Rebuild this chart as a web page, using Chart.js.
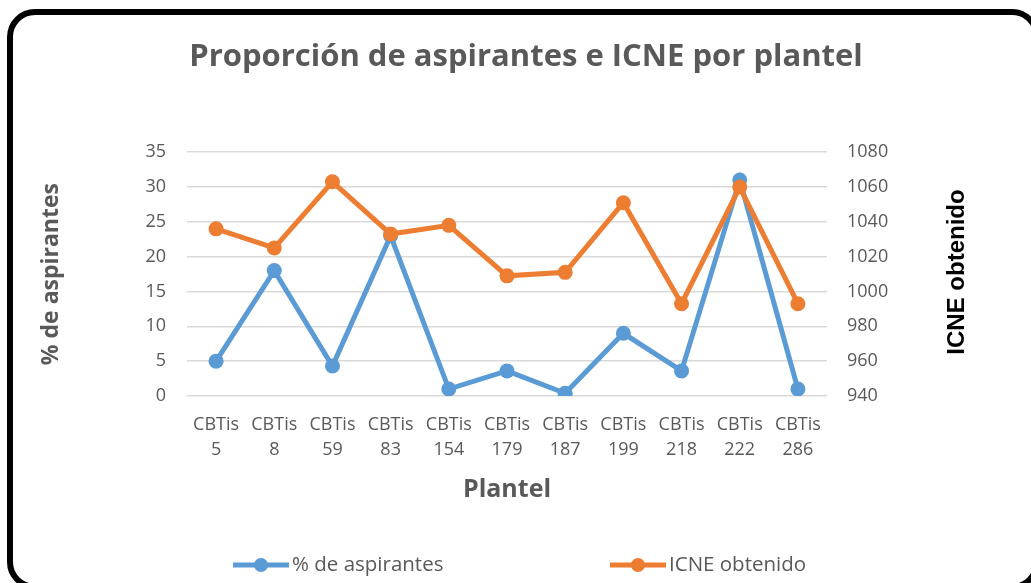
<!DOCTYPE html>
<html>
<head>
<meta charset="utf-8">
<script src="https://cdn.jsdelivr.net/npm/chart.js@4/dist/chart.umd.min.js"></script>
<style>
  html, body { margin: 0; padding: 0; background: #fff; overflow: hidden; }
  #wrap { position: relative; width: 1031px; height: 583px; }
  #frame { position: absolute; left: 7px; top: 9px; width: 1021px; height: 569px; border: 6px solid #000; border-radius: 28px; pointer-events: none; }
  canvas { position: absolute; left: 0; top: 0; }
</style>
</head>
<body>
<div id="wrap">
  <canvas id="c" width="1031" height="583"></canvas>
  <div id="frame"></div>
</div>
<script>
const titleText = 'Proporción de aspirantes e ICNE por plantel';
const xTitle = 'Plantel';
const leftTitle = '% de aspirantes';
const rightTitle = 'ICNE obtenido';
const categories = [['CBTis','5'],['CBTis','8'],['CBTis','59'],['CBTis','83'],['CBTis','154'],['CBTis','179'],['CBTis','187'],['CBTis','199'],['CBTis','218'],['CBTis','222'],['CBTis','286']];
const aspirantes = [5, 18, 4.3, 23, 1, 3.6, 0.4, 9, 3.6, 31, 1];
const icne = [1036, 1025, 1063, 1033, 1038, 1009, 1011, 1051, 993, 1060, 993];
const seriesNames = ['% de aspirantes', 'ICNE obtenido'];
const colors = ['#5B9BD5', '#ED7D31'];

const textColor = '#595959';
const baseFont = "'Open Sans', sans-serif";

const customLegend = {
  id: 'customLegend',
  afterDraw(chart) {
    const ctx = chart.ctx;
    const y = 565;
    const items = [{x: 233, i: 0}, {x: 610, i: 1}];
    ctx.save();
    items.forEach(it => {
      const c = chart.data.datasets[it.i].borderColor;
      ctx.strokeStyle = c;
      ctx.lineWidth = 5;
      ctx.lineCap = 'butt';
      ctx.beginPath();
      ctx.moveTo(it.x, y);
      ctx.lineTo(it.x + 56, y);
      ctx.stroke();
      ctx.fillStyle = c;
      ctx.beginPath();
      ctx.arc(it.x + 28, y, 7, 0, Math.PI * 2);
      ctx.fill();
      ctx.fillStyle = textColor;
      ctx.font = "20.5px " + baseFont;
      ctx.textBaseline = 'middle';
      ctx.textAlign = 'left';
      ctx.fillText(chart.data.datasets[it.i].label, it.x + 59, y);
    });
    // right axis title (rotated, reading bottom to top)
    ctx.translate(957, 272);
    ctx.rotate(-Math.PI / 2);
    ctx.fillStyle = '#000';
    ctx.font = "bold 24px 'Liberation Sans', Arial, sans-serif";
    ctx.textAlign = 'center';
    ctx.textBaseline = 'middle';
    ctx.fillText(rightTitle, 0, 0);
    ctx.restore();
  }
};

new Chart(document.getElementById('c'), {
  type: 'line',
  data: {
    labels: categories,
    datasets: [
      { label: seriesNames[0], data: aspirantes, yAxisID: 'y', borderColor: colors[0], backgroundColor: colors[0],
        borderWidth: 5, pointRadius: 7.5, pointHoverRadius: 7.5, pointBorderWidth: 0, tension: 0, order: 1 },
      { label: seriesNames[1], data: icne, yAxisID: 'y1', borderColor: colors[1], backgroundColor: colors[1],
        borderWidth: 5, pointRadius: 7.5, pointHoverRadius: 7.5, pointBorderWidth: 0, tension: 0, order: 0 }
    ]
  },
  options: {
    responsive: false,
    animation: false,
    events: [],
    layout: { padding: { left: 21, right: 0, top: 0, bottom: 0 } },
    plugins: {
      legend: { display: false },
      tooltip: { enabled: false },
      title: {
        display: true, text: titleText, color: textColor,
        font: { family: baseFont, size: 31, weight: 'bold', lineHeight: 1.2 },
        padding: { top: 39, bottom: 76 }
      }
    },
    scales: {
      x: {
        offset: true,
        grid: { display: false, drawTicks: false },
        border: { display: false },
        ticks: { color: textColor, font: { family: baseFont, size: 18, lineHeight: 1.4 }, padding: 16, maxRotation: 0, autoSkip: false },
        title: { display: true, text: xTitle, color: textColor, font: { family: baseFont, size: 25, weight: 'bold', lineHeight: 1.2 }, padding: { top: 0, bottom: 78 } },
        afterFit(s) { s.height = 187; }
      },
      y: {
        position: 'left', min: 0, max: 35,
        grid: { color: '#D9D9D9', lineWidth: 1.5, drawTicks: false },
        border: { display: false },
        ticks: { stepSize: 5, color: textColor, font: { family: baseFont, size: 18 }, padding: 21, callback: v => String(v) },
        title: { display: true, text: leftTitle, color: textColor, font: { family: baseFont, size: 23, weight: 'bold', lineHeight: 1.2 }, padding: { top: 17, bottom: 0 } },
        afterFit(s) { s.width = 166; }
      },
      y1: {
        position: 'right', min: 940, max: 1080,
        grid: { display: false, drawTicks: false },
        border: { display: false },
        ticks: { stepSize: 20, color: textColor, font: { family: baseFont, size: 18 }, padding: 20, callback: v => String(v) },
        afterFit(s) { s.width = 204; }
      }
    }
  },
  plugins: [customLegend]
});
</script>
</body>
</html>
